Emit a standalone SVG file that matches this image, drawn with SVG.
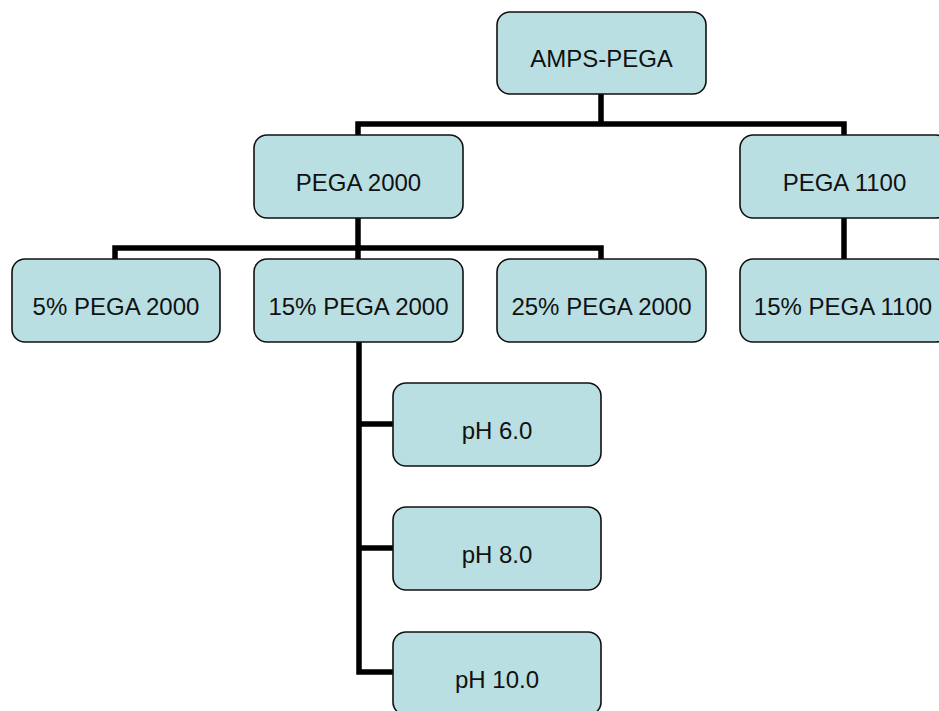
<svg xmlns="http://www.w3.org/2000/svg" width="939" height="711" viewBox="0 0 939 711">
<style>
.box{fill:#BADFE2;stroke:#111;stroke-width:1.6}
.lbl{font-family:"Liberation Sans",Arial,sans-serif;font-size:24px;fill:#111;text-anchor:middle}
.conn{fill:none;stroke:#000;stroke-width:5.5;stroke-linejoin:miter;stroke-linecap:butt}
</style>
<rect width="939" height="711" fill="#fff"/>
<g id="connectors">
<path class="conn" d="M601,94 V124 M358,135 V124 H844 V135"/>
<path class="conn" d="M358,218 V259 M115,259 V248 H601 V259"/>
<path class="conn" d="M844,218 V259"/>
<path class="conn" d="M359,342 V672 H393 M359,424 H393 M359,548 H393"/>
</g>
<g id="n-amps"><rect class="box" x="497" y="12" width="209" height="82" rx="13"/><text class="lbl" x="601.5" y="67">AMPS-PEGA</text></g>
<g id="n-pega2000"><rect class="box" x="254" y="135" width="209" height="83" rx="13"/><text class="lbl" x="358.5" y="191">PEGA 2000</text></g>
<g id="n-pega1100"><rect class="box" x="740" y="135" width="209" height="83" rx="13"/><text class="lbl" x="844.5" y="191">PEGA 1100</text></g>
<g id="n-5"><rect class="box" x="12" y="259" width="208" height="83" rx="13"/><text class="lbl" x="116" y="315">5% PEGA 2000</text></g>
<g id="n-15"><rect class="box" x="254" y="259" width="209" height="83" rx="13"/><text class="lbl" x="358.5" y="315">15% PEGA 2000</text></g>
<g id="n-25"><rect class="box" x="497" y="259" width="209" height="83" rx="13"/><text class="lbl" x="601.5" y="315">25% PEGA 2000</text></g>
<g id="n-15-1100"><rect class="box" x="740" y="259" width="209" height="83" rx="13"/><text class="lbl" x="843" y="315">15% PEGA 1100</text></g>
<g id="n-ph6"><rect class="box" x="393" y="383" width="208" height="83" rx="13"/><text class="lbl" x="497" y="439">pH 6.0</text></g>
<g id="n-ph8"><rect class="box" x="393" y="507" width="208" height="83" rx="13"/><text class="lbl" x="497" y="563">pH 8.0</text></g>
<g id="n-ph10"><rect class="box" x="393" y="632" width="208" height="83" rx="13"/><text class="lbl" x="497" y="688">pH 10.0</text></g>
</svg>
